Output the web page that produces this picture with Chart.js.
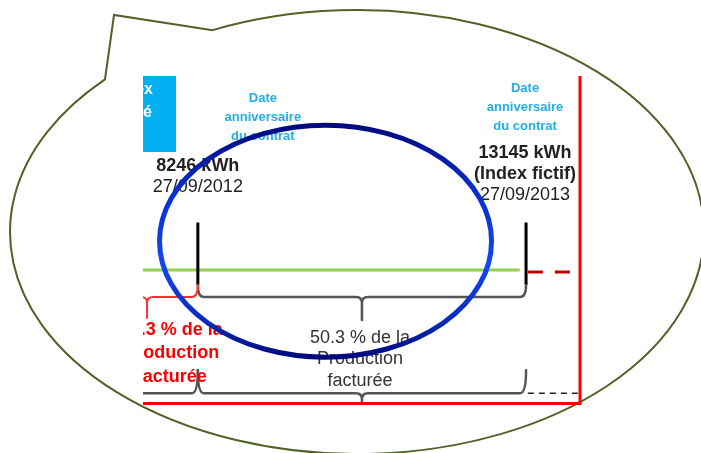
<!DOCTYPE html>
<html>
<head>
<meta charset="utf-8">
<script src="https://cdn.jsdelivr.net/npm/chart.js@4"></script>
<style>
  html, body { margin: 0; padding: 0; background: #fff; }
  canvas { display: block; }
</style>
</head>
<body>
<canvas id="timelineChart" width="701" height="453"></canvas>
<script>
// contract anniversaries, days counted from the first one
const dates = ["27/09/2012", "27/09/2013"];
const dayOffsets = [0, 365];
const indexValues = [8246, 13145];
const indexNotes = ["", "(Index fictif)"];
const anniversaryText = ["Date", "anniversaire", "du contrat"];
const previousShare = 49.3; // only "3 %" shows in the crop
const billedShare = 50.3;
const shareText = ["de la", "Production", "facturée"];
const viewDays = [-61, 425];
const greenDays = [-61, 358];
const pendingDays = [367, 428];
const previousStart = -113;

const ctx = document.getElementById("timelineChart");

// levels on the hidden 0..100 y axis
const LINE_Y = 41;
const PENDING_Y = 40.4;
const TICK_TOP = 55.5;
const TICK_BOT = 36.5;
const BRACE_Y = 32.8;
const LOW_Y = 3.6;
const FONT = '"Liberation Sans", Arial, sans-serif';

const brace = (c, x1, x2, tipX, y, rise1, rise2, depth, r) => {
  c.beginPath();
  c.moveTo(x1, y - rise1);
  c.quadraticCurveTo(x1, y, x1 + r, y);
  c.lineTo(tipX - r, y);
  c.quadraticCurveTo(tipX, y, tipX, y + r);
  c.lineTo(tipX, y + depth);
  c.moveTo(tipX, y + r);
  c.quadraticCurveTo(tipX, y, tipX + r, y);
  c.lineTo(x2 - r, y);
  c.quadraticCurveTo(x2, y, x2, y - rise2);
  c.stroke();
};

const lines = (c, arr, x, y0, step) =>
  arr.forEach((t, i) => c.fillText(t, x, y0 + i * step));

const diagram = {
  id: "diagram",
  beforeDraw(chart) {
    const c = chart.ctx;
    const { left, top } = chart.chartArea;
    c.save();
    c.fillStyle = "#fff";
    c.fillRect(0, 0, chart.width, chart.height);
    // speech bubble
    const cx = 357, cy = 232, rx = 347, ry = 222;
    const a1 = Math.atan2((32 - cy) / ry, (214 - cx) / rx);
    const a2 = Math.atan2((80 - cy) / ry, (106 - cx) / rx) + Math.PI * 2;
    c.beginPath();
    c.ellipse(cx, cy, rx, ry, 0, a1, a2);
    c.lineTo(114, 15);
    c.closePath();
    c.fill();
    c.strokeStyle = "#4f6228";
    c.lineWidth = 2;
    c.stroke();
    // cut-off blue header box
    c.fillStyle = "#00b0f0";
    c.fillRect(left, top, 33, 76);
    c.restore();
  },
  afterDatasetsDraw(chart) {
    const c = chart.ctx;
    const { left, top, right, bottom } = chart.chartArea;
    const x = chart.scales.x, y = chart.scales.y;
    const px = dayOffsets.map((d) => x.getPixelForValue(d));
    const mid = x.getPixelForValue((dayOffsets[0] + dayOffsets[1]) / 2);
    const prevStart = x.getPixelForValue(previousStart);
    const prevMid = x.getPixelForValue(previousStart / 2);
    const by = y.getPixelForValue(BRACE_Y);
    const ly = y.getPixelForValue(LOW_Y);

    c.save();
    c.beginPath();
    c.rect(left, top, right - left, bottom - top);
    c.clip();

    // braces
    c.lineCap = "round";
    c.lineWidth = 2.5;
    c.strokeStyle = "#555";
    brace(c, px[0], px[1], mid, by, 12, 12, 23, 6);
    c.beginPath();
    c.moveTo(left, ly);
    c.lineTo(px[0] - 6, ly);
    c.quadraticCurveTo(px[0], ly, px[0], ly - 23);
    c.stroke();
    brace(c, px[0], px[1], mid, ly, 23, 23, 12, 6);
    c.strokeStyle = "#ff3030";
    c.lineWidth = 2;
    brace(c, prevStart, px[0], prevMid, by, 12, 12, 21, 6);

    // header box text
    c.fillStyle = "#fff";
    c.textAlign = "right";
    c.textBaseline = "middle";
    c.font = `bold 16px ${FONT}`;
    c.fillText("Index", left + 10, top + 14);
    c.fillText("facturé", left + 9, top + 37);

    // anniversary labels
    const labelTop = [22, 12];
    const labelDx = [65, -1];
    const indexTop = [90, 77];
    c.textAlign = "center";
    dayOffsets.forEach((d, i) => {
      const cxl = px[i] + labelDx[i];
      c.fillStyle = "#22aee6";
      c.font = `bold 13px ${FONT}`;
      lines(c, anniversaryText, cxl, top + labelTop[i], 19);
      const head = [`${indexValues[i]} kWh`];
      if (indexNotes[i]) head.push(indexNotes[i]);
      c.fillStyle = "#222";
      c.font = `bold 18px ${FONT}`;
      lines(c, head, px[i] - i, top + indexTop[i], 21);
      c.font = `18px ${FONT}`;
      c.fillText(dates[i], px[i] - i, top + indexTop[i] + head.length * 21);
    });

    // share of billed production
    c.fillStyle = "#ff0000";
    c.font = `bold 18px ${FONT}`;
    lines(c, [`${previousShare} % ${shareText[0]}`, shareText[1], shareText[2]],
      px[0] - 26, top + 254, 23.5);
    c.fillStyle = "#333";
    c.font = `18px ${FONT}`;
    lines(c, [`${billedShare} % ${shareText[0]}`, shareText[1], shareText[2]],
      mid - 2, top + 262, 21.5);
    c.restore();

    // red frame of the crop
    c.save();
    c.strokeStyle = "#ff0000";
    c.lineWidth = 3;
    c.beginPath();
    c.moveTo(right, top);
    c.lineTo(right, bottom - 1.5);
    c.lineTo(left, bottom - 1.5);
    c.stroke();
    c.restore();
  },
  afterDraw(chart) {
    const c = chart.ctx;
    const x = chart.scales.x, y = chart.scales.y;
    const ex = x.getPixelForValue(142);
    const ey = y.getPixelForValue(49.8);
    const g = c.createLinearGradient(0, ey - 116, 0, ey + 116);
    g.addColorStop(0, "#000a7d");
    g.addColorStop(0.3, "#0a2fd0");
    g.addColorStop(0.6, "#1446f0");
    g.addColorStop(0.85, "#0a2ab8");
    g.addColorStop(1, "#000a7d");
    c.save();
    c.strokeStyle = g;
    c.lineWidth = 5;
    c.beginPath();
    c.ellipse(ex, ey, 166, 116, 0, 0, Math.PI * 2);
    c.stroke();
    c.restore();
  },
};

new Chart(ctx, {
  type: "line",
  data: {
    datasets: [
      {
        data: dayOffsets.flatMap((d) => [
          { x: d, y: TICK_TOP },
          { x: d, y: TICK_BOT },
          { x: d, y: null },
        ]),
        borderColor: "#000",
        borderWidth: 3,
        pointRadius: 0,
        spanGaps: false,
        order: 0,
      },
      {
        data: greenDays.map((d) => ({ x: d, y: LINE_Y })),
        borderColor: "#92d050",
        borderWidth: 3,
        pointRadius: 0,
        order: 1,
      },
      {
        data: pendingDays.map((d) => ({ x: d, y: PENDING_Y })),
        borderColor: "#c00000",
        borderWidth: 3,
        borderDash: [15, 12],
        pointRadius: 0,
        order: 1,
      },
      {
        data: pendingDays.map((d) => ({ x: d, y: LOW_Y })),
        borderColor: "#222",
        borderWidth: 1.5,
        borderDash: [6, 5],
        pointRadius: 0,
        order: 1,
      },
    ],
  },
  options: {
    responsive: false,
    animation: false,
    devicePixelRatio: 1,
    layout: { padding: { left: 143, right: 121, top: 76, bottom: 48 } },
    scales: {
      x: { type: "linear", min: viewDays[0], max: viewDays[1], display: false },
      y: { min: 0, max: 100, display: false },
    },
    plugins: {
      legend: { display: false },
      tooltip: { enabled: false },
    },
  },
  plugins: [diagram],
});
</script>
</body>
</html>
